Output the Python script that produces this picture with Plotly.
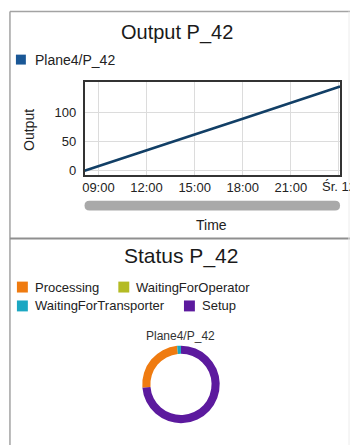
import plotly.graph_objects as go

W, H = 350, 448

# ---- Output series (cumulative count over the shift) ----
times = ["2020-02-11 08:08", "2020-02-11 09:00", "2020-02-11 12:00",
         "2020-02-11 15:00", "2020-02-11 18:00", "2020-02-11 21:00",
         "2020-02-12 00:04"]
output = [0, 8, 35, 62, 89, 116, 144]
series_name = "Plane4/P_42"

tick_times = ["2020-02-11 09:00", "2020-02-11 12:00", "2020-02-11 15:00",
              "2020-02-11 18:00", "2020-02-11 21:00", "2020-02-12 00:00"]
tick_text = ["09:00", "12:00", "15:00", "18:00", "21:00", "Śr. 12"]

# ---- Status shares (percent of time) ----
states = ["Processing", "WaitingForOperator", "WaitingForTransporter", "Setup"]
shares = [24.7, 0.0, 1.6, 73.7]
state_colors = ["#ef7b10", "#b4bb24", "#1ba7c2", "#5c1a9e"]

FONT = "Liberation Sans, Arial, sans-serif"


def px(x):
    return x / W


def py(y):
    return 1 - y / H


fig = go.Figure()

fig.add_trace(go.Scatter(
    x=times, y=output, mode="lines", name=series_name,
    line=dict(color="#123f66", width=2.6), showlegend=False,
    xaxis="x", yaxis="y",
))

# donut drawn clockwise from 12 o'clock: Setup first, then the rest
order = [3, 0, 1, 2]
fig.add_trace(go.Pie(
    labels=[states[i] for i in order],
    values=[shares[i] for i in order],
    marker=dict(colors=[state_colors[i] for i in order], line=dict(width=0)),
    hole=0.79, sort=False, direction="clockwise", rotation=0,
    textinfo="none", showlegend=False, hoverinfo="label+percent",
    domain=dict(x=[px(141), px(219)], y=[py(426), py(348)]),
))

# the day-change label sits at the right edge and is drawn separately
axis_text = tick_text[:-1] + [""]

fig.update_layout(
    width=W, height=H,
    margin=dict(l=0, r=0, t=0, b=0),
    paper_bgcolor="white", plot_bgcolor="white",
    font=dict(family=FONT, color="#222"),
    xaxis=dict(
        type="date", domain=[px(83), px(340)],
        range=["2020-02-11 08:08", "2020-02-12 00:04"],
        tickmode="array", tickvals=tick_times, ticktext=axis_text,
        showgrid=True, gridcolor="#dcdcdc", gridwidth=1,
        showline=True, linecolor="#333", linewidth=1.5, mirror=True,
        ticks="", tickfont=dict(size=13, color="#222"),
        zeroline=False, anchor="y",
    ),
    yaxis=dict(
        domain=[py(176), py(83)], range=[-7, 151],
        tickvals=[0, 50, 100],
        showgrid=True, gridcolor="#dcdcdc", gridwidth=1,
        showline=True, linecolor="#333", linewidth=1.5, mirror=True,
        ticks="", tickfont=dict(size=13, color="#222"),
        ticklabelstandoff=4, zeroline=False, anchor="x",
    ),
)

shapes = []
# panel frames
border = dict(color="#a3a3a3", width=1.5)
shapes.append(dict(type="line", xref="paper", yref="paper",
                   x0=px(8), x1=px(350), y0=py(11.5), y1=py(11.5), line=border))
shapes.append(dict(type="line", xref="paper", yref="paper",
                   x0=px(8), x1=px(8), y0=py(11.5), y1=py(448), line=border))
shapes.append(dict(type="line", xref="paper", yref="paper",
                   x0=px(8), x1=px(350), y0=py(240), y1=py(240),
                   line=dict(color="#8f8f8f", width=2)))
shapes.append(dict(type="line", xref="paper", yref="paper",
                   x0=px(349), x1=px(349), y0=py(11.5), y1=py(448),
                   line=dict(color="#ececec", width=1)))

# time scroller bar with rounded ends
bx0, bx1, by0, by1, r = 83, 340, 202, 212, 5


def bar_path(x0, x1):
    return (f"M {px(x0 + r)},{py(by0)} L {px(x1 - r)},{py(by0)} "
            f"Q {px(x1)},{py(by0)} {px(x1)},{py(by0 + r)} "
            f"Q {px(x1)},{py(by1)} {px(x1 - r)},{py(by1)} "
            f"L {px(x0 + r)},{py(by1)} "
            f"Q {px(x0)},{py(by1)} {px(x0)},{py(by0 + r)} "
            f"Q {px(x0)},{py(by0)} {px(x0 + r)},{py(by0)} Z")


shapes.append(dict(type="path", xref="paper", yref="paper",
                   path=bar_path(bx0, bx1), fillcolor="#a9a9a9",
                   line=dict(width=0)))

# legend swatches
shapes.append(dict(type="rect", xref="paper", yref="paper",
                   x0=px(14), x1=px(24), y0=py(55), y1=py(65),
                   fillcolor="#1a5796", line=dict(width=0)))

legend_layout = [(15, 289), (117, 289), (15, 308), (183, 308)]
for (lx, ly), col in zip(legend_layout, state_colors):
    shapes.append(dict(type="rect", xref="paper", yref="paper",
                       x0=px(lx), x1=px(lx + 11), y0=py(ly - 5.5), y1=py(ly + 5.5),
                       fillcolor=col, line=dict(width=0)))

fig.update_layout(shapes=shapes)

ann = []


def text(x, y, s, size, color="#222", xanchor="center", angle=0):
    ann.append(dict(x=px(x), y=py(y), xref="paper", yref="paper", text=s,
                    showarrow=False, xanchor=xanchor, yanchor="middle",
                    textangle=angle, font=dict(size=size, color=color, family=FONT)))


text(176, 33, "Output P_42", 20, "#1a1a1a")
text(31, 60, series_name, 14, "#222", xanchor="left")
text(27, 131, "Output", 14, "#222", angle=-90)
text(211, 227, "Time", 14, "#222")

# last date tick label: fixed-width box so it is cut at the page edge
ann.append(dict(x=tick_times[-1], y=py(188), xref="x", yref="paper",
                text=tick_text[-1], showarrow=False, xanchor="left",
                yanchor="middle", xshift=-18.5, width=30, align="left",
                font=dict(size=13, color="#222", family=FONT)))

text(180, 258, "Status P_42", 21, "#1a1a1a")
for (lx, ly), name in zip(legend_layout, states):
    text(lx + 16, ly, name, 13, "#222", xanchor="left")
text(180, 338, series_name, 12, "#333")

fig.update_layout(annotations=ann)

fig.write_html("out.html")
